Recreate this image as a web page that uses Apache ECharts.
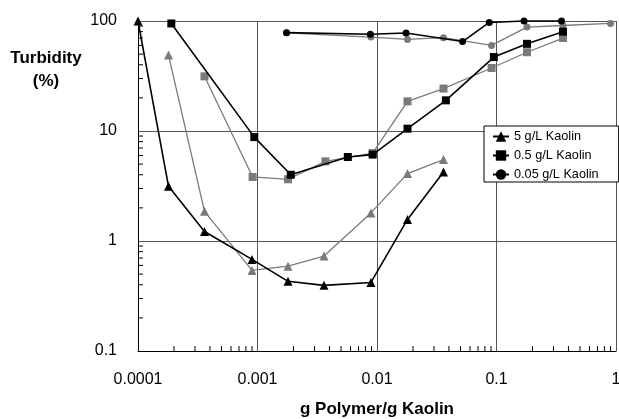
<!DOCTYPE html>
<html>
<head>
<meta charset="utf-8">
<script src="https://cdn.jsdelivr.net/npm/echarts@6/dist/echarts.min.js"></script>
<style>html,body{margin:0;padding:0;background:#fff}#c{width:619px;height:419px}</style>
</head>
<body>
<div id="c"></div>
<script>
// ---- data ----
const xTickLabels = ['0.0001', '0.001', '0.01', '0.1', '1'];
const yTickLabels = ['0.1', '1', '10', '100'];
const legendNames = ['5 g/L Kaolin', '0.5 g/L Kaolin', '0.05 g/L Kaolin'];

const bTriX = [0.0001, 0.00018, 0.00036, 0.0009, 0.0018, 0.0036, 0.0089, 0.018, 0.036];
const bTriY = [100, 3.14, 1.22, 0.68, 0.43, 0.395, 0.42, 1.57, 4.24];
const gTriX = [0.00018, 0.00036, 0.0009, 0.0018, 0.0036, 0.0089, 0.018, 0.036];
const gTriY = [49, 1.86, 0.54, 0.59, 0.73, 1.8, 4.1, 5.5];

const bSqX = [0.00019, 0.00094, 0.0019, 0.0057, 0.0092, 0.018, 0.0377, 0.095, 0.18, 0.36];
const bSqY = [95, 8.8, 4.0, 5.8, 6.1, 10.5, 19, 47, 62, 80];
const gSqX = [0.00036, 0.00091, 0.0018, 0.0037, 0.0092, 0.018, 0.036, 0.091, 0.18, 0.36];
const gSqY = [31.4, 3.82, 3.64, 5.3, 6.3, 18.6, 24.3, 37.4, 52, 70];

const bCirX = [0.00175, 0.0088, 0.0175, 0.052, 0.087, 0.17, 0.35];
const bCirY = [78.4, 75.7, 77.8, 65, 97, 100, 100];
const gCirX = [0.00175, 0.0089, 0.018, 0.036, 0.091, 0.18, 0.36, 0.9];
const gCirY = [78, 71.5, 68, 70.6, 60, 88, 91, 95];

// minor tick positions on the log axes (2..9 x 10^n)
const minorX = [];
for (let e = -4; e < 0; e++) for (let k = 2; k <= 9; k++) minorX.push(k * Math.pow(10, e));
const minorY = [];
for (let e = -1; e < 2; e++) for (let k = 2; k <= 9; k++) minorY.push(k * Math.pow(10, e));

const pairs = (xs, ys) => xs.map((x, i) => [x, ys[i]]);
const FONT = 'Liberation Sans, Arial, sans-serif';
const BLACK = '#000';
const GRAY = '#7a7a7a';

function lineSeries(name, xs, ys, color, symbol, size, width, z) {
  return {
    name: name, type: 'line', data: pairs(xs, ys), clip: false,
    symbol: symbol, symbolSize: size, z: z,
    lineStyle: { color: color, width: width },
    itemStyle: { color: color },
    emphasis: { disabled: true }
  };
}

const chart = echarts.init(document.getElementById('c'), null, { renderer: 'canvas' });
chart.setOption({
  animation: false,
  backgroundColor: '#fff',
  textStyle: { fontFamily: FONT },
  grid: { left: 138, right: 3, top: 21, bottom: 68, containLabel: false, outerBoundsMode: 'none' },
  legend: {
    data: legendNames,
    orient: 'vertical',
    left: 484, top: 126,
    padding: [4, 20, 1, 8],
    itemWidth: 16, itemHeight: 13, itemGap: 6,
    borderColor: '#000', borderWidth: 1, backgroundColor: '#fff',
    textStyle: { fontFamily: FONT, fontSize: 12.7, color: '#000' }
  },
  xAxis: {
    type: 'log', logBase: 10, min: 0.0001, max: 1,
    axisLine: { show: true, lineStyle: { color: '#000', width: 1 } },
    axisTick: { show: false },
    splitLine: { show: true, lineStyle: { color: '#555', width: 1 } },
    axisLabel: {
      margin: 21, fontSize: 16, color: '#000', fontFamily: FONT,
      formatter: v => xTickLabels[Math.round(Math.log10(v)) + 4]
    },
    name: 'g Polymer/g Kaolin', nameLocation: 'middle', nameGap: 50,
    nameTextStyle: { fontSize: 17, fontWeight: 'bold', color: '#000', fontFamily: FONT }
  },
  yAxis: {
    type: 'log', logBase: 10, min: 0.1, max: 100,
    axisLine: { show: true, lineStyle: { color: '#000', width: 1 } },
    axisTick: { show: false },
    splitLine: { show: true, lineStyle: { color: '#555', width: 1 } },
    axisLabel: {
      margin: 21, fontSize: 16, color: '#000', fontFamily: FONT,
      formatter: v => yTickLabels[Math.round(Math.log10(v)) + 1]
    }
  },
  graphic: [{
    type: 'text', x: 46, y: 47,
    style: {
      text: 'Turbidity\n(%)', fontSize: 17, fontWeight: 'bold', fill: '#000',
      fontFamily: FONT, align: 'center', lineHeight: 23
    }
  }],
  series: [
    {
      type: 'custom', coordinateSystem: 'cartesian2d', clip: false, silent: true, z: 1,
      data: minorX.map(v => [v, 0.1]),
      renderItem: (params, api) => {
        const p = api.coord([api.value(0), 0.1]);
        return { type: 'line', shape: { x1: p[0], y1: p[1], x2: p[0], y2: p[1] - 5 }, style: { stroke: '#000', lineWidth: 1 } };
      }
    },
    {
      type: 'custom', coordinateSystem: 'cartesian2d', clip: false, silent: true, z: 1,
      data: minorY.map(v => [0.0001, v]),
      renderItem: (params, api) => {
        const p = api.coord([0.0001, api.value(1)]);
        return { type: 'line', shape: { x1: p[0], y1: p[1], x2: p[0] + 5, y2: p[1] }, style: { stroke: '#000', lineWidth: 1 } };
      }
    },
    lineSeries('g5', gTriX, gTriY, GRAY, 'triangle', 9, 1.3, 3),
    lineSeries('g05', gSqX, gSqY, GRAY, 'rect', 8, 1.3, 3),
    lineSeries('g005', gCirX, gCirY, GRAY, 'circle', 7, 1.3, 3),
    lineSeries(legendNames[0], bTriX, bTriY, BLACK, 'triangle', 9, 1.6, 4),
    lineSeries(legendNames[1], bSqX, bSqY, BLACK, 'rect', 8, 1.6, 4),
    lineSeries(legendNames[2], bCirX, bCirY, BLACK, 'circle', 7, 1.6, 4)
  ]
});
</script>
</body>
</html>
